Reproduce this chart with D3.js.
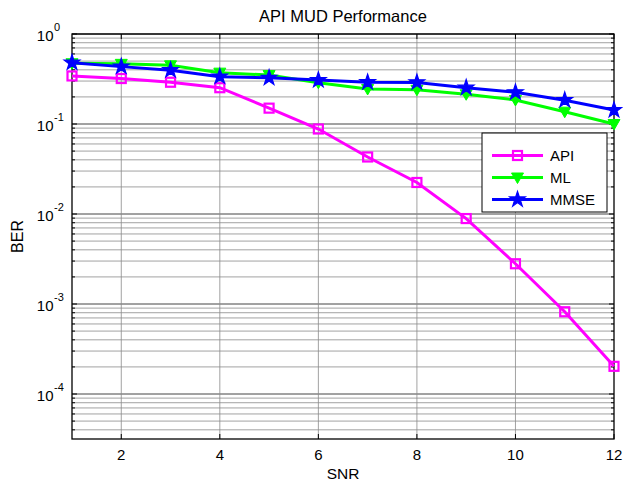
<!DOCTYPE html>
<html>
<head>
<meta charset="utf-8">
<script src="https://cdn.jsdelivr.net/npm/d3@7"></script>
<style>
  body { margin: 0; background: #fff; }
  text { font-family: "Liberation Sans", Arial, sans-serif; fill: #000; }
</style>
</head>
<body>
<div id="chart"></div>
<script>
// chart values
var snr = [1, 2, 3, 4, 5, 6, 7, 8, 9, 10, 11, 12];
var berAPI = [0.342, 0.32, 0.291, 0.253, 0.15, 0.088, 0.043, 0.0224, 0.0089, 0.0028, 0.00082, 0.000203];
var berML = [0.473, 0.466, 0.449, 0.372, 0.35, 0.288, 0.245, 0.24, 0.214, 0.185, 0.137, 0.1];
var berMMSE = [0.48, 0.434, 0.396, 0.336, 0.326, 0.308, 0.291, 0.29, 0.253, 0.225, 0.184, 0.143];
var seriesNames = ["API", "ML", "MMSE"];
var xTicks = [2, 4, 6, 8, 10, 12];
var yExps = [0, -1, -2, -3, -4];

// set the dimensions and margins of the graph
var margin = {top: 34, right: 9, bottom: 44, left: 72},
    width = 623 - margin.left - margin.right,
    height = 483 - margin.top - margin.bottom;

var svg = d3.select("#chart")
  .append("svg")
    .attr("width", 623)
    .attr("height", 483)
  .append("g")
    .attr("transform", "translate(" + margin.left + "," + margin.top + ")");

var x = d3.scaleLinear().domain([1, 12]).range([0, width]);
var y = d3.scaleLog().domain([Math.pow(10, -4.5), 1]).range([height, 0]);

// minor log values inside the domain
var minor = [];
for (var e = -5; e < 0; e++) {
  for (var m = 2; m <= 9; m++) {
    var v = m * Math.pow(10, e);
    if (v >= y.domain()[0] && v <= 1) minor.push(v);
  }
}
var major = yExps.map(function(k) { return Math.pow(10, k); });

// grid
svg.selectAll(".hminor").data(minor).enter().append("line")
  .attr("x1", 0).attr("x2", width)
  .attr("y1", function(d) { return y(d); }).attr("y2", function(d) { return y(d); })
  .attr("stroke", "#8a8a8a").attr("stroke-width", 0.8);
svg.selectAll(".hmajor").data(major).enter().append("line")
  .attr("x1", 0).attr("x2", width)
  .attr("y1", function(d) { return y(d); }).attr("y2", function(d) { return y(d); })
  .attr("stroke", "#444").attr("stroke-width", 1);
svg.selectAll(".vgrid").data(xTicks.slice(0, -1)).enter().append("line")
  .attr("x1", function(d) { return x(d); }).attr("x2", function(d) { return x(d); })
  .attr("y1", 0).attr("y2", height)
  .attr("stroke", "#8a8a8a").attr("stroke-width", 0.8);

// ticks (inward, both sides)
[0, width].forEach(function(px, i) {
  var dir = i === 0 ? 1 : -1;
  svg.selectAll(null).data(major).enter().append("line")
    .attr("x1", px).attr("x2", px + dir * 5)
    .attr("y1", function(d) { return y(d); }).attr("y2", function(d) { return y(d); })
    .attr("stroke", "#000");
  svg.selectAll(null).data(minor).enter().append("line")
    .attr("x1", px).attr("x2", px + dir * 3)
    .attr("y1", function(d) { return y(d); }).attr("y2", function(d) { return y(d); })
    .attr("stroke", "#000");
});
[0, height].forEach(function(py, i) {
  var dir = i === 0 ? 1 : -1;
  svg.selectAll(null).data(xTicks).enter().append("line")
    .attr("x1", function(d) { return x(d); }).attr("x2", function(d) { return x(d); })
    .attr("y1", py).attr("y2", py + dir * 5)
    .attr("stroke", "#000");
});

// box
svg.append("rect")
  .attr("width", width).attr("height", height)
  .attr("fill", "none").attr("stroke", "#000").attr("stroke-width", 1.3);

// tick labels
svg.selectAll(".xlab").data(xTicks).enter().append("text")
  .attr("x", function(d) { return x(d); })
  .attr("y", height + 21)
  .attr("text-anchor", "middle")
  .style("font-size", "15px")
  .text(function(d) { return d; });

var ylab = svg.selectAll(".ylab").data(yExps).enter().append("g")
  .attr("transform", function(d) { return "translate(0," + y(Math.pow(10, d)) + ")"; });
ylab.append("text")
  .attr("x", -18.5).attr("y", 7)
  .attr("text-anchor", "end")
  .style("font-size", "15px")
  .text("10");
ylab.append("text")
  .attr("x", -18).attr("y", -3.5)
  .style("font-size", "11px")
  .text(function(d) { return d; });

// title and axis labels
svg.append("text")
  .attr("x", width / 2).attr("y", -12)
  .attr("text-anchor", "middle")
  .style("font-size", "16.5px")
  .text("API MUD Performance");
svg.append("text")
  .attr("x", width / 2).attr("y", height + 40)
  .attr("text-anchor", "middle")
  .style("font-size", "15.5px")
  .text("SNR");
svg.append("text")
  .attr("transform", "translate(-49," + (height / 2) + ") rotate(-90)")
  .attr("text-anchor", "middle")
  .style("font-size", "16px")
  .text("BER");

// series
var series = [
  {name: seriesNames[0], values: berAPI, color: "#ff00ff", symbol: "square"},
  {name: seriesNames[1], values: berML, color: "#00ff00", symbol: "tri"},
  {name: seriesNames[2], values: berMMSE, color: "#0000ff", symbol: "star"}
];

function marker(sel, s) {
  if (s.symbol === "square") {
    sel.append("rect")
      .attr("x", -4.5).attr("y", -4.5).attr("width", 9).attr("height", 9)
      .attr("fill", "none").attr("stroke", s.color).attr("stroke-width", 2.2);
  } else if (s.symbol === "tri") {
    sel.append("path")
      .attr("d", "M-6,-4.5L6,-4.5L0,6Z")
      .attr("fill", s.color).attr("stroke", s.color).attr("stroke-width", 1);
  } else {
    sel.append("path")
      .attr("d", d3.symbol().type(d3.symbolStar).size(75))
      .attr("fill", s.color).attr("stroke", s.color).attr("stroke-width", 1.2);
  }
}

var line = d3.line()
  .x(function(d, i) { return x(snr[i]); })
  .y(function(d) { return y(d); });

series.forEach(function(s) {
  svg.append("path")
    .datum(s.values)
    .attr("d", line)
    .attr("fill", "none")
    .attr("stroke", s.color)
    .attr("stroke-width", 3);
  svg.selectAll(null).data(s.values).enter().append("g")
    .attr("transform", function(d, i) { return "translate(" + x(snr[i]) + "," + y(d) + ")"; })
    .each(function() { marker(d3.select(this), s); });
});

// legend
var lg = svg.append("g").attr("transform", "translate(" + (width - 132) + ",99)");
lg.append("rect")
  .attr("width", 125).attr("height", 79)
  .attr("fill", "#fff").attr("stroke", "#000").attr("stroke-width", 1);
series.forEach(function(s, i) {
  var row = lg.append("g").attr("transform", "translate(0," + (22.5 + i * 22) + ")");
  row.append("line")
    .attr("x1", 10).attr("x2", 61)
    .attr("stroke", s.color).attr("stroke-width", 3);
  var m = row.append("g").attr("transform", "translate(35.5,0)");
  marker(m, s);
  row.append("text")
    .attr("x", 68).attr("y", 5.5)
    .style("font-size", "15px")
    .text(s.name);
});
</script>
</body>
</html>
